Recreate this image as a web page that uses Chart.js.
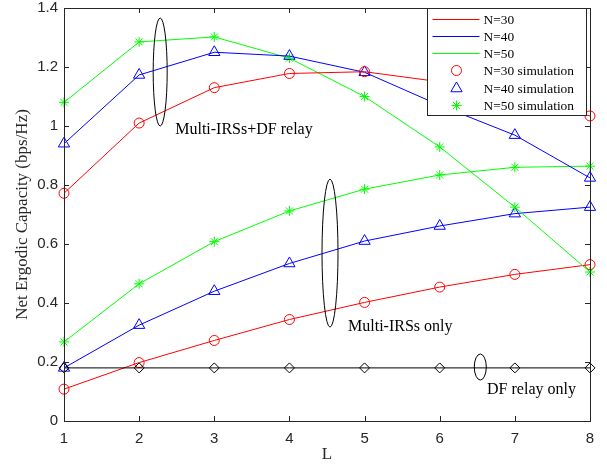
<!DOCTYPE html>
<html>
<head>
<meta charset="utf-8">
<script src="https://cdn.jsdelivr.net/npm/chart.js@4.4.1/dist/chart.umd.min.js"></script>
<style>
  body { margin: 0; background: #fff; }
  #wrap { width: 607px; height: 464px; }
</style>
</head>
<body>
<div id="wrap"><canvas id="myChart" width="607" height="464"></canvas></div>
<script>
const L = [1, 2, 3, 4, 5, 6, 7, 8];
const yTicks = [0, 0.2, 0.4, 0.6, 0.8, 1, 1.2, 1.4];

// Multi-IRSs + DF relay
const hybridN30 = [0.772, 1.01, 1.13, 1.178, 1.184, 1.15, 1.10, 1.034];
const hybridN40 = [0.94, 1.173, 1.25, 1.237, 1.182, 1.07, 0.969, 0.824];
const hybridN50 = [1.08, 1.285, 1.302, 1.23, 1.10, 0.929, 0.725, 0.505];

// Multi-IRSs only
const irsN30 = [0.108, 0.198, 0.273, 0.344, 0.402, 0.454, 0.497, 0.53];
const irsN40 = [0.18, 0.325, 0.44, 0.534, 0.61, 0.661, 0.703, 0.725];
const irsN50 = [0.268, 0.465, 0.608, 0.712, 0.786, 0.834, 0.86, 0.864];

// DF relay only
const relayOnly = [0.18, 0.18, 0.18, 0.18, 0.18, 0.18, 0.18, 0.18];

const RED = '#ff0000';
const BLUE = '#0000ff';
const GREEN = '#00ff00';

const legendItems = [
    { label: 'N=30', color: RED, line: true },
    { label: 'N=40', color: BLUE, line: true },
    { label: 'N=50', color: GREEN, line: true },
    { label: 'N=30 simulation', color: RED, style: 'circle', radius: 5 },
    { label: 'N=40 simulation', color: BLUE, style: 'triangle', radius: 6.5 },
    { label: 'N=50 simulation', color: GREEN, style: 'star', radius: 5 },
];

// ellipse centres and labels, in data units
const notes = [
    { cx: 2.28, cy: 1.183, rx: 7, ry: 54, text: 'Multi-IRSs+DF relay', tx: 2.48, ty: 0.986 },
    { cx: 4.54, cy: 0.569, rx: 8, ry: 74, text: 'Multi-IRSs only', tx: 4.78, ty: 0.319 },
    { cx: 6.54, cy: 0.183, rx: 6, ry: 13, text: 'DF relay only', tx: 6.63, ty: 0.105 },
];

const pts = arr => arr.map( ( v, i ) => ( { x: L[i], y: v } ) );

const curve = ( data, color ) => ( {
    data: pts( data ),
    borderColor: color,
    borderWidth: 1,
    pointRadius: 0,
    tension: 0,
    clip: false,
} );

const marks = ( data, color, style, radius ) => ( {
    data: pts( data ),
    borderColor: color,
    backgroundColor: 'transparent',
    showLine: false,
    pointStyle: style,
    pointRadius: radius,
    pointBorderWidth: 1,
    pointBackgroundColor: 'transparent',
    pointBorderColor: color,
    clip: false,
} );

const framePlugin = {
    id: 'frame',
    afterDatasetsDraw( chart ) {
        const { ctx, chartArea: a, scales: { x, y } } = chart;
        ctx.save();

        // annotations
        ctx.strokeStyle = '#000';
        ctx.lineWidth = 1;
        ctx.fillStyle = '#000';
        ctx.font = '16px "Liberation Serif"';
        ctx.textBaseline = 'middle';
        ctx.textAlign = 'left';
        for ( let n of notes ) {
            ctx.beginPath();
            ctx.ellipse( x.getPixelForValue( n.cx ), y.getPixelForValue( n.cy ), n.rx, n.ry, 0, 0, Math.PI * 2 );
            ctx.stroke();
            ctx.fillText( n.text, x.getPixelForValue( n.tx ), y.getPixelForValue( n.ty ) );
        }

        // box and inward ticks
        ctx.strokeStyle = '#262626';
        ctx.strokeRect( Math.round( a.left ) + 0.5, Math.round( a.top ) + 0.5,
            Math.round( a.right - a.left ), Math.round( a.bottom - a.top ) );
        ctx.beginPath();
        for ( let v of L ) {
            const px = Math.round( x.getPixelForValue( v ) ) + 0.5;
            ctx.moveTo( px, a.bottom );
            ctx.lineTo( px, a.bottom - 5 );
            ctx.moveTo( px, a.top );
            ctx.lineTo( px, a.top + 5 );
        }
        for ( let v of yTicks ) {
            const py = Math.round( y.getPixelForValue( v ) ) + 0.5;
            ctx.moveTo( a.left, py );
            ctx.lineTo( a.left + 5, py );
            ctx.moveTo( a.right, py );
            ctx.lineTo( a.right - 5, py );
        }
        ctx.stroke();

        // legend
        const w = 159, h = 107, row = 17.3;
        const bx = Math.round( a.right - 4 - w ) + 0.5;
        const by = Math.round( a.top ) + 0.5;
        ctx.fillStyle = '#fff';
        ctx.fillRect( bx, by, w, h );
        ctx.strokeStyle = '#262626';
        ctx.strokeRect( bx, by, w, h );
        ctx.font = '13.4px "Liberation Serif"';
        legendItems.forEach( ( item, i ) => {
            const ry = Math.round( by + 10 + i * row ) + 0.5;
            if ( item.line ) {
                ctx.beginPath();
                ctx.lineWidth = 1;
                ctx.strokeStyle = item.color;
                ctx.moveTo( bx + 5, ry );
                ctx.lineTo( bx + 52, ry );
                ctx.stroke();
            } else {
                ctx.strokeStyle = item.color;
                ctx.fillStyle = 'rgba(0,0,0,0)';
                Chart.helpers.drawPoint( ctx, { pointStyle: item.style, radius: item.radius, borderWidth: 1 }, bx + 29, ry );
            }
            ctx.fillStyle = '#000';
            ctx.fillText( item.label, bx + 56, ry + 1 );
        } );

        ctx.restore();
    }
};

new Chart( document.getElementById( 'myChart' ), {
    type: 'line',
    data: {
        datasets: [
            curve( relayOnly, '#000' ),
            marks( relayOnly, '#000', 'rectRot', 5 ),
            curve( hybridN30, RED ),
            curve( hybridN40, BLUE ),
            curve( hybridN50, GREEN ),
            curve( irsN30, RED ),
            curve( irsN40, BLUE ),
            curve( irsN50, GREEN ),
            marks( hybridN30, RED, 'circle', 5 ),
            marks( hybridN40, BLUE, 'triangle', 6.5 ),
            marks( hybridN50, GREEN, 'star', 5 ),
            marks( irsN30, RED, 'circle', 5 ),
            marks( irsN40, BLUE, 'triangle', 6.5 ),
            marks( irsN50, GREEN, 'star', 5 ),
        ]
    },
    options: {
        responsive: false,
        animation: false,
        layout: { padding: { top: 8, right: 17, left: 0, bottom: 0 } },
        plugins: {
            legend: { display: false },
            tooltip: { enabled: false },
        },
        scales: {
            x: {
                type: 'linear',
                min: 1,
                max: 8,
                grid: { display: false, drawTicks: false },
                border: { display: false },
                ticks: {
                    stepSize: 1,
                    padding: 9,
                    color: '#262626',
                    font: { family: 'Liberation Sans', size: 15 },
                },
                title: {
                    display: true,
                    text: 'L',
                    color: '#262626',
                    padding: { top: 0, bottom: 0 },
                    font: { family: 'Liberation Serif', size: 17, lineHeight: 1.1 },
                },
                afterFit( scale ) {
                    scale.height = 43;
                    scale.paddingLeft = 0;
                    scale.paddingRight = 0;
                },
            },
            y: {
                min: 0,
                max: 1.4,
                grid: { display: false, drawTicks: false },
                border: { display: false },
                afterBuildTicks( scale ) { scale.ticks = yTicks.map( v => ( { value: v } ) ); },
                ticks: {
                    padding: 6,
                    color: '#262626',
                    font: { family: 'Liberation Sans', size: 15 },
                    callback: v => String( +v.toFixed( 1 ) ),
                },
                title: {
                    display: true,
                    text: 'Net Ergodic Capacity (bps/Hz)',
                    color: '#262626',
                    padding: { top: 12, bottom: 0 },
                    font: { family: 'Liberation Serif', size: 17 },
                },
                afterFit( scale ) {
                    scale.width = 64;
                    scale.paddingTop = 0;
                    scale.paddingBottom = 0;
                },
            }
        }
    },
    plugins: [framePlugin],
} );
</script>
</body>
</html>
